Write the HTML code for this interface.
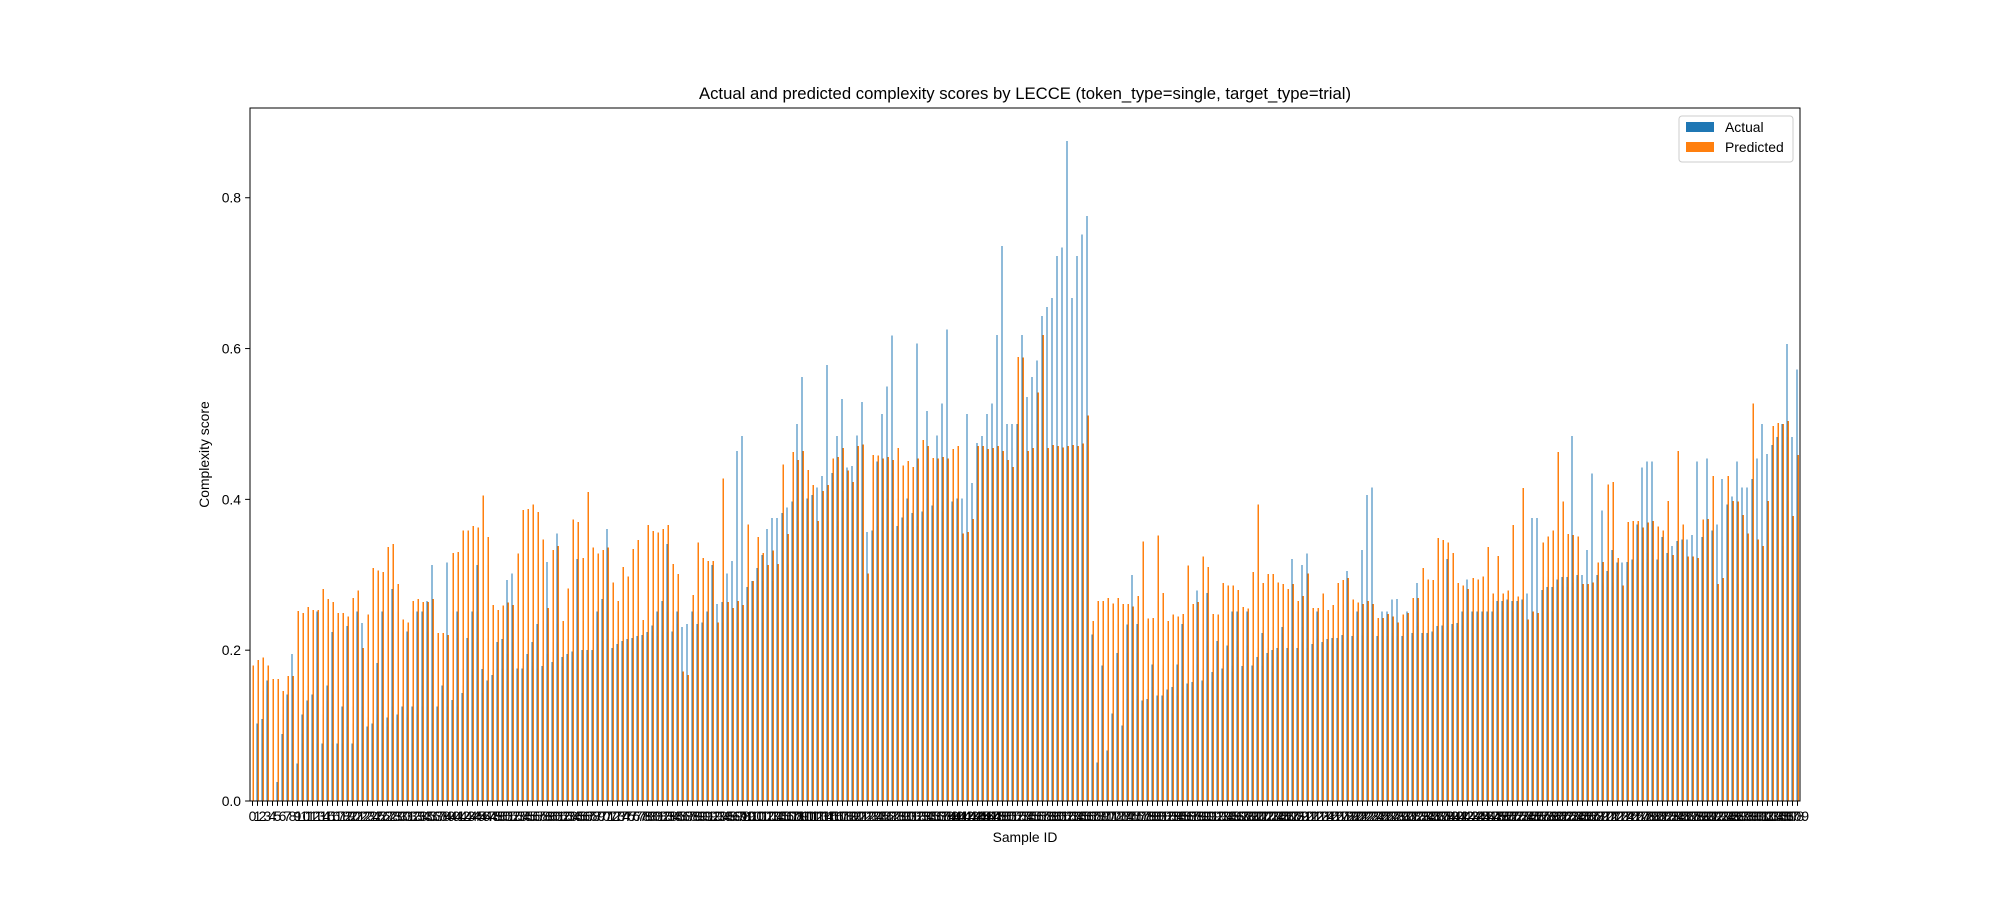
<!DOCTYPE html>
<html><head><meta charset="utf-8"><style>
html,body{margin:0;padding:0;background:#fff;}
svg{display:block;font-family:"Liberation Sans","DejaVu Sans",sans-serif;}
</style></head><body>
<svg id="chart" width="2000" height="900" viewBox="0 0 2000 900" xmlns="http://www.w3.org/2000/svg">
<rect width="2000" height="900" fill="#fff"/>
<text x="1025" y="99" font-size="16.7" text-anchor="middle">Actual and predicted complexity scores by LECCE (token_type=single, target_type=trial)</text>
<g id="bars" shape-rendering="crispEdges"></g>
<g id="xticks"></g>
<g id="yticks"></g>
<rect x="250" y="108" width="1550" height="693" fill="none" stroke="#000" stroke-width="1"/>
<text x="1025" y="842" font-size="13.9" text-anchor="middle">Sample ID</text>
<text x="0" y="0" font-size="13.9" text-anchor="middle" transform="translate(209,454.5) rotate(-90)">Complexity score</text>
<g>
<rect x="1679" y="116" width="114" height="46" rx="3" fill="#fff" fill-opacity="0.8" stroke="#ccc"/>
<g>
<rect x="1686" y="122" width="28" height="10" fill="#1f77b4"/>
<text x="1725" y="132" font-size="13.9">Actual</text>
</g>
<g>
<rect x="1686" y="142" width="28" height="10" fill="#ff7f0e"/>
<text x="1725" y="152" font-size="13.9">Predicted</text>
</g>
</g>
</svg>
<script>
const actual = [0,.103,.109,.160,0,.025,.089,.141,.195,.050,.115,.133,.141,.251,.076,.153,.224,.076,.125,.232,.076,.251,.236,.099,.103,.183,.251,.111,.281,.115,.125,
.225,.125,.251,.251,.265,.313,.125,.153,.316,.134,.251,.143,.216,.251,.313,.175,.160,.167,.211,.215,.293,.302,.176,.176,.195,.211,.235,.179,.317,.184,.355,
.191,.195,.198,.321,.200,.200,.200,.251,.268,.361,.203,.208,.212,.215,.216,.219,.220,.224,.233,.251,.265,.341,.225,.251,.231,.235,.251,.235,.237,.251,.313,
.261,.264,.302,.318,.464,.484,.284,.292,.309,.326,.361,.375,.375,.382,.389,.397,.500,.562,.401,.406,.416,.431,.578,.435,.484,.533,.442,.444,.485,.529,.357,
.359,.450,.513,.550,.617,.365,.376,.401,.382,.607,.384,.517,.392,.485,.527,.625,.397,.401,.401,.513,.422,.475,.484,.513,.527,.618,.736,.500,.500,.500,.618,
.536,.562,.584,.643,.655,.667,.723,.734,.875,.667,.723,.751,.776,.221,.051,.180,.067,.116,.196,.100,.234,.300,.235,.133,.135,.181,.140,.140,.148,.151,.181,
.235,.156,.158,.279,.160,.276,.171,.212,.176,.206,.251,.251,.179,.251,.180,.191,.223,.196,.200,.203,.231,.203,.321,.203,.313,.328,.208,.251,.211,.215,.216,
.216,.220,.305,.219,.251,.333,.406,.416,.219,.251,.251,.267,.268,.219,.251,.223,.289,.223,.223,.225,.232,.233,.321,.235,.236,.251,.294,.251,.251,.251,.251,
.251,.265,.265,.267,.265,.265,.267,.275,.375,.375,.280,.284,.284,.294,.297,.297,.484,.300,.300,.333,.434,.300,.385,.305,.333,.316,.316,.317,.320,.367,.442,
.450,.450,.320,.350,.329,.338,.345,.347,.347,.353,.450,.350,.454,.359,.367,.427,.393,.404,.450,.416,.416,.427,.454,.500,.460,.472,.483,.500,.606,.483,.572];
const predicted = [.180,.187,.190,.180,.162,.162,.146,.166,.166,.252,.249,.257,.253,.253,.281,.268,.264,.249,.249,.245,.269,.279,.203,.247,.309,.306,.304,.337,.341,.288,.241,
.237,.265,.268,.264,.264,.268,.223,.223,.220,.329,.330,.359,.359,.365,.363,.405,.350,.260,.253,.259,.263,.260,.328,.386,.387,.393,.383,.347,.256,.333,.338,
.239,.282,.373,.370,.322,.410,.336,.328,.333,.336,.290,.265,.310,.298,.334,.346,.240,.366,.358,.356,.361,.366,.314,.301,.172,.167,.273,.343,.322,.318,.318,
.237,.428,.264,.256,.265,.260,.367,.292,.350,.329,.313,.332,.314,.446,.354,.463,.452,.464,.439,.419,.371,.411,.419,.454,.456,.468,.438,.423,.471,.473,.302,
.459,.458,.454,.456,.452,.468,.445,.451,.443,.454,.479,.471,.455,.454,.456,.454,.467,.471,.355,.357,.374,.471,.471,.467,.468,.471,.464,.452,.443,.589,.588,
.464,.468,.542,.618,.468,.472,.471,.469,.471,.472,.471,.474,.511,.239,.265,.265,.269,.262,.269,.261,.261,.258,.272,.344,.242,.243,.352,.276,.239,.247,.245,
.248,.312,.261,.264,.324,.310,.248,.247,.289,.286,.286,.280,.257,.255,.304,.393,.289,.301,.301,.290,.288,.281,.288,.265,.272,.302,.256,.256,.275,.253,.260,
.289,.293,.296,.267,.263,.261,.265,.261,.243,.243,.248,.245,.237,.247,.249,.269,.269,.309,.294,.293,.349,.346,.343,.329,.289,.286,.281,.296,.294,.298,.337,
.275,.325,.275,.279,.366,.271,.415,.241,.251,.249,.343,.351,.359,.463,.397,.354,.353,.351,.288,.288,.290,.316,.317,.420,.423,.322,.286,.370,.371,.371,.363,
.369,.371,.364,.359,.398,.326,.464,.367,.324,.324,.322,.373,.374,.431,.288,.296,.431,.398,.397,.379,.355,.527,.347,.338,.398,.497,.501,.500,.504,.378,.459];
const yTickValues = [0.0, 0.2, 0.4, 0.6, 0.8];
const yTickLabels = ["0.0", "0.2", "0.4", "0.6", "0.8"];

const NS = "http://www.w3.org/2000/svg";
const L = 250, R = 1800, T = 108, B = 801;
const yMax = 0.919;
const n = actual.length;
const step = (R - L) / n;
function xCenter(i) { return L + (i + 0.5) * step; }
function yPos(v) { return B - v / yMax * (B - T); }
const bw = step * 0.25;

const bars = document.getElementById('bars');
for (let i = 0; i < n; i++) {
  const cx = xCenter(i);
  const a = document.createElementNS(NS, 'rect');
  a.setAttribute('x', cx - bw);
  a.setAttribute('y', yPos(actual[i]));
  a.setAttribute('width', bw);
  a.setAttribute('height', B - yPos(actual[i]));
  a.setAttribute('fill', '#1f77b4');
  
  
  bars.appendChild(a);
  const p = document.createElementNS(NS, 'rect');
  p.setAttribute('x', cx);
  p.setAttribute('y', yPos(predicted[i]));
  p.setAttribute('width', bw);
  p.setAttribute('height', B - yPos(predicted[i]));
  p.setAttribute('fill', '#ff7f0e');
  
  
  bars.appendChild(p);
}

const xt = document.getElementById('xticks');
for (let i = 0; i < n; i++) {
  const cx = xCenter(i);
  const tk = document.createElementNS(NS, 'line');
  tk.setAttribute('x1', cx); tk.setAttribute('x2', cx);
  tk.setAttribute('y1', B); tk.setAttribute('y2', B + 4.9);
  tk.setAttribute('stroke', '#000'); tk.setAttribute('stroke-width', '1');
  
  
  xt.appendChild(tk);
  const tx = document.createElementNS(NS, 'text');
  tx.setAttribute('x', cx); tx.setAttribute('y', B + 20);
  tx.setAttribute('font-size', '13.9'); tx.setAttribute('text-anchor', 'middle');
  
  
  tx.textContent = String(i);
  xt.appendChild(tx);
}

const yt = document.getElementById('yticks');
for (let j = 0; j < yTickValues.length; j++) {
  const y = yPos(yTickValues[j]);
  const tk = document.createElementNS(NS, 'line');
  tk.setAttribute('x1', L - 4.9); tk.setAttribute('x2', L);
  tk.setAttribute('y1', y); tk.setAttribute('y2', y);
  tk.setAttribute('stroke', '#000'); tk.setAttribute('stroke-width', '1');
  
  
  yt.appendChild(tk);
  const tx = document.createElementNS(NS, 'text');
  tx.setAttribute('x', L - 9); tx.setAttribute('y', y + 5);
  tx.setAttribute('font-size', '13.9'); tx.setAttribute('text-anchor', 'end');
  
  
  tx.textContent = yTickLabels[j];
  yt.appendChild(tx);
}
</script>
</body></html>
